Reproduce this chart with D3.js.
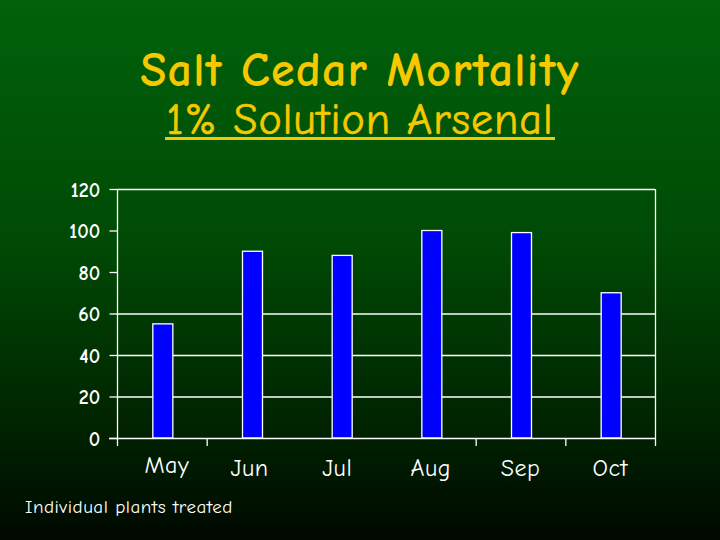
<!DOCTYPE html>
<html><head><meta charset="utf-8">
<script src="https://cdn.jsdelivr.net/npm/d3@7/dist/d3.min.js"></script>
<style>html,body{margin:0;padding:0;background:#000;}svg{display:block;}</style>
</head><body>
<svg id="c" width="720" height="540"></svg>
<script>
const categories = ["May","Jun","Jul","Aug","Sep","Oct"];
const values = [55, 90, 88, 100, 99, 70];
const yTicks = [0, 20, 40, 60, 80, 100, 120];
const gridValues = [20, 40, 60];
const titleText = "Salt Cedar Mortality";
const subtitleText = "1% Solution Arsenal";
const noteText = "Individual plants treated";

const svg = d3.select("#c");
const font = "'Comic Sans MS','Comic Neue','DejaVu Sans',sans-serif";
const defs = svg.append("defs");
const g = defs.append("linearGradient").attr("id","bg").attr("x1",0).attr("y1",0).attr("x2",0).attr("y2",1);
g.append("stop").attr("offset","0%").attr("stop-color","#00620a");
g.append("stop").attr("offset","45%").attr("stop-color","#004a05");
g.append("stop").attr("offset","80%").attr("stop-color","#002200");
g.append("stop").attr("offset","100%").attr("stop-color","#000800");
svg.append("rect").attr("width",720).attr("height",540).attr("fill","url(#bg)");

const yellow = "#f5c800";
// Titles
svg.append("text").attr("x",360).attr("y",86).attr("text-anchor","middle")
  .attr("font-family",font).attr("font-weight","bold").attr("font-size",48)
  .attr("letter-spacing",1.2).attr("fill",yellow).text(titleText);
svg.append("text").attr("x",360).attr("y",134).attr("text-anchor","middle")
  .attr("font-family",font).attr("font-size",44)
  .attr("letter-spacing",1).attr("stroke",yellow).attr("stroke-width",0.6)
  .attr("fill",yellow).text(subtitleText);
svg.append("line").attr("x1",165).attr("x2",555).attr("y1",138.5).attr("y2",138.5)
  .attr("stroke",yellow).attr("stroke-width",3);

const L = 117, R = 655, T = 189, B = 438;
const x = d3.scaleBand().domain(categories).range([L,R]).paddingInner(0).paddingOuter(0);
const y = d3.scaleLinear().domain([0,120]).range([B,T]);

// gridlines
svg.append("g").selectAll("line").data(gridValues).join("line")
  .attr("x1",L).attr("x2",R).attr("y1",d=>y(d)+0.5).attr("y2",d=>y(d)+0.5)
  .attr("stroke","#fff").attr("stroke-width",1.3);
// frame top & right
svg.append("line").attr("x1",L).attr("x2",R).attr("y1",y(120)+0.5).attr("y2",y(120)+0.5).attr("stroke","#fff").attr("stroke-width",1.3);
svg.append("line").attr("x1",R+0.5).attr("x2",R+0.5).attr("y1",T).attr("y2",B).attr("stroke","#fff").attr("stroke-width",1.3);

// bars
const bw = 20;
svg.append("g").selectAll("rect").data(values).join("rect")
  .attr("x",(d,i)=>x(categories[i])+x.bandwidth()/2-bw/2+1)
  .attr("width",bw)
  .attr("y",d=>y(d))
  .attr("height",d=>B-y(d))
  .attr("fill","#0000ff").attr("stroke","#fff").attr("stroke-width",1.3);

// y axis
const yAxis = d3.axisLeft(y).tickValues(yTicks).tickSize(8).tickPadding(9);
const ya = svg.append("g").attr("transform",`translate(${L+0.5},0)`).call(yAxis);
ya.select(".domain").attr("stroke","#fff").attr("stroke-width",1.3).attr("d",`M0,${T}V${B}`);
ya.selectAll(".tick line").attr("stroke","#fff").attr("stroke-width",1.3);
ya.selectAll(".tick text").attr("fill","#fff").attr("font-family",font).attr("font-weight","bold")
  .attr("font-size",20).attr("letter-spacing",0.2).attr("dy","0.35em");

// x axis
svg.append("line").attr("x1",L-8).attr("x2",R).attr("y1",B+0.5).attr("y2",B+0.5).attr("stroke","#fff").attr("stroke-width",1.3);
const boundaries = [0,1,4,5,6].map(i => i<categories.length ? x(categories[i]) : R);
svg.append("g").selectAll("line").data(boundaries).join("line")
  .attr("x1",d=>d+0.5).attr("x2",d=>d+0.5).attr("y1",B).attr("y2",B+8)
  .attr("stroke","#fff").attr("stroke-width",1.3);
const labelDx = [5,-2,-4,0,0,0];
const labelDy = [-3,0,0,0,0,0];
svg.append("g").selectAll("text").data(categories).join("text")
  .attr("x",(d,i)=>x(d)+x.bandwidth()/2+labelDx[i])
  .attr("y",(d,i)=>476+labelDy[i])
  .attr("text-anchor","middle").attr("fill","#fff").attr("font-family",font).attr("font-size",24)
  .attr("letter-spacing",0.5).text(d=>d);

svg.append("text").attr("x",25).attr("y",513).attr("fill","#fff").attr("font-family",font)
  .attr("font-size",19).attr("letter-spacing",0.5).text(noteText);
</script>
</body></html>
